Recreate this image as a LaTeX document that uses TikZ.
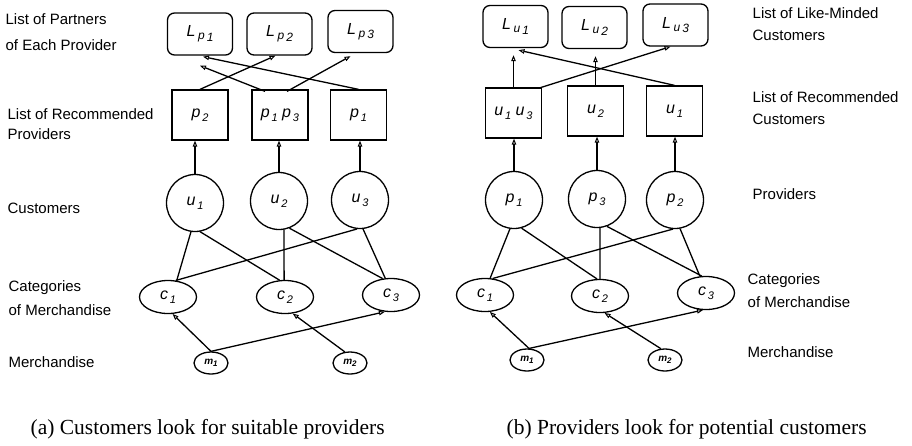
\documentclass[tikz,border=0pt]{standalone}
\usepackage{fontspec}
\setmainfont{Liberation Serif}
\setsansfont{Liberation Sans}[ItalicFont=Liberation Sans Italic,BoldFont=Liberation Sans Bold,BoldItalicFont=Liberation Sans Bold Italic]
\usetikzlibrary{arrows.meta,shapes.geometric}
\newcommand{\nsub}[2]{#1\raisebox{-4pt}{\fontsize{11}{11}\selectfont\,#2}}
\newcommand{\lsub}[2]{L\,\raisebox{-3pt}{\fontsize{12}{12}\selectfont #1\,\raisebox{-1.5pt}{#2}}}
\newcommand{\msub}[1]{m\raisebox{-2pt}{\fontsize{8}{8}\selectfont #1}}
\tikzset{
  every path/.style={line width=1.3pt},
  lbl/.style={font=\sffamily\fontsize{15}{18}\selectfont, anchor=west, inner sep=0pt, text height=11pt, text depth=3pt},
  captext/.style={font=\fontsize{21.5}{24}\selectfont, anchor=base west, inner sep=0pt},
  nt/.style={font=\sffamily\fontsize{16}{18}\selectfont\itshape},
  lbox/.style={nt, draw, rounded corners=7pt, minimum width=65pt, minimum height=42pt, inner sep=0pt},
  sbox/.style={nt, draw, minimum width=56pt, minimum height=50pt, inner sep=0pt},
  circ/.style={nt, draw, circle, minimum size=57pt, inner sep=0pt},
  ell/.style={nt, draw, ellipse, minimum width=57pt, minimum height=33pt, inner sep=0pt},
  mell/.style={draw, ellipse, minimum width=34pt, minimum height=22pt, inner sep=0pt, font=\sffamily\fontsize{10}{10}\selectfont\bfseries\itshape},
  arr/.style={-{Triangle[open,length=6pt,width=4.5pt,line width=1pt]}},
}
\begin{document}
\begin{tikzpicture}[x=1pt,y=-1pt]
\useasboundingbox (0,0) rectangle (912,445);
% ---------------- left panel ----------------
\node[lbl] (la1) at (5,20) {List of Partners};
\node[lbl] (la2) at (5,46) {of Each Provider};
\node[lbl] (la3) at (7,115) {List of Recommended};
\node[lbl] (la4) at (7,135) {Providers};
\node[lbl] (la5) at (7,209) {Customers};
\node[lbl] (la6) at (8,287) {Categories};
\node[lbl] (la7) at (8,311) {of Merchandise};
\node[lbl] (la8) at (8,363) {Merchandise};

\node[lbox] (Lp1) at (200,34) {\lsub{p}{1}};
\node[lbox] (Lp2) at (279.5,34) {\lsub{p}{2}};
\node[lbox] (Lp3) at (360.5,31.5) {\lsub{p}{3}};

\node[sbox] (bp2) at (200,115) {\nsub{p}{2}};
\node[sbox] (bp13) at (280,115) {\nsub{p}{1}\ \nsub{p}{3}};
\node[sbox] (bp1) at (358.5,115) {\nsub{p}{1}};

\node[circ] (u1) at (195,203) {\nsub{u}{1}};
\node[circ] (u2) at (279,201) {\nsub{u}{2}};
\node[circ] (u3) at (360,200) {\nsub{u}{3}};

\node[ell] (c1) at (168,297) {\nsub{c}{1}};
\node[ell] (c2) at (285,297) {\nsub{c}{2}};
\node[ell] (c3) at (391,295) {\nsub{c}{3}};

\node[mell] (m1) at (211,363) {\msub{1}};
\node[mell] (m2) at (350,363) {\msub{2}};

\draw[arr] (u1.north) -- (u1.north |- bp2.south);
\draw[arr] (u2.north) -- (u2.north |- bp13.south);
\draw[arr] (u3.north) -- (u3.north |- bp1.south);

\coordinate (ta) at ([yshift=-10pt]Lp1.south);
\draw[arr] (bp2.north) -- ([xshift=-4pt]Lp2.south);
\draw[arr] (bp1.north) -- ([xshift=3pt,yshift=-1pt]Lp1.south);
\draw[arr] ([xshift=-15pt,yshift=-2pt]bp13.north) -- (ta);
\draw[arr] ([xshift=7pt,yshift=-2pt]bp13.north) -- ([xshift=-10pt,yshift=-3pt]Lp3.south);

\draw (u1.262) -- (c1.62);
\draw (u1.280) -- (c2.108);
\draw (u2.280) -- (c2.93);
\draw (u2.291) -- (c3.117);
\draw (u3.264) -- (c1.65);
\draw (u3.276) -- (c3.109);

\draw[arr] (m1.north) -- (c1.285);
\draw[arr] (m1.north) -- (c3.250);
\draw[arr] (m2.115) -- (c2.295);

% ---------------- right panel ----------------
\node[lbl] (lb1) at (752,14) {List of Like-Minded};
\node[lbl] (lb2) at (752,36) {Customers};
\node[lbl] (lb3) at (752,98) {List of Recommended};
\node[lbl] (lb4) at (752,120) {Customers};
\node[lbl] (lb5) at (752,195) {Providers};
\node[lbl] (lb6) at (747,280) {Categories};
\node[lbl] (lb7) at (747,303) {of Merchandise};
\node[lbl] (lb8) at (747,353) {Merchandise};

\node[lbox] (Lu1) at (515.5,26.5) {\lsub{u}{1}};
\node[lbox] (Lu2) at (594.5,27.5) {\lsub{u}{2}};
\node[lbox] (Lu3) at (675.5,25) {\lsub{u}{3}};

\node[sbox] (bu13) at (513.5,113) {\nsub{u}{1}\ \nsub{u}{3}};
\node[sbox] (bu2) at (595.5,111) {\nsub{u}{2}};
\node[sbox] (bu1) at (674.5,111) {\nsub{u}{1}};

\node[circ] (p1) at (514,200) {\nsub{p}{1}};
\node[circ] (p3) at (597,199) {\nsub{p}{3}};
\node[circ] (p2) at (675,200) {\nsub{p}{2}};

\node[ell] (d1) at (485,295) {\nsub{c}{1}};
\node[ell] (d2) at (600,296) {\nsub{c}{2}};
\node[ell] (d3) at (706,293) {\nsub{c}{3}};

\node[mell] (n1) at (527,360) {\msub{1}};
\node[mell] (n2) at (665,360) {\msub{2}};

\draw[arr] (p1.north) -- (p1.north |- bu13.south);
\draw[arr] (p3.north) -- (p3.north |- bu2.south);
\draw[arr] (p2.north) -- (p2.north |- bu1.south);

\coordinate (tb1) at ([yshift=-7pt]Lu1.south);
\coordinate (tb2) at ([yshift=-7pt]Lu2.south);
\draw[arr] (bu13.north) -- (bu13.north |- tb1);
\draw[arr] (bu2.north) -- (bu2.north |- tb2);
\draw[arr] (bu1.north) -- ([xshift=3pt,yshift=-2pt]Lu1.south);
\draw[arr] ([xshift=-4pt,yshift=-1pt]bu13.north east) -- ([xshift=-5pt]Lu3.south);

\draw (p1.262) -- (d1.73);
\draw (p1.285) -- (d2.100);
\draw (p3.276) -- (d2.90);
\draw (p3.290) -- (d3.104);
\draw (p2.266) -- (d1.65);
\draw (p2.280) -- (d3.110);

\draw[arr] (n1.80) -- (d1.286);
\draw[arr] (n1.80) -- (d3.260);
\draw[arr] (n2.110) -- (d2.285);

% ---------------- captions ----------------
\node[captext] (capa) at (30,434) {(a) Customers look for suitable providers};
\node[captext] (capb) at (506,434) {(b) Providers look for potential customers};
\end{tikzpicture}
\end{document}
